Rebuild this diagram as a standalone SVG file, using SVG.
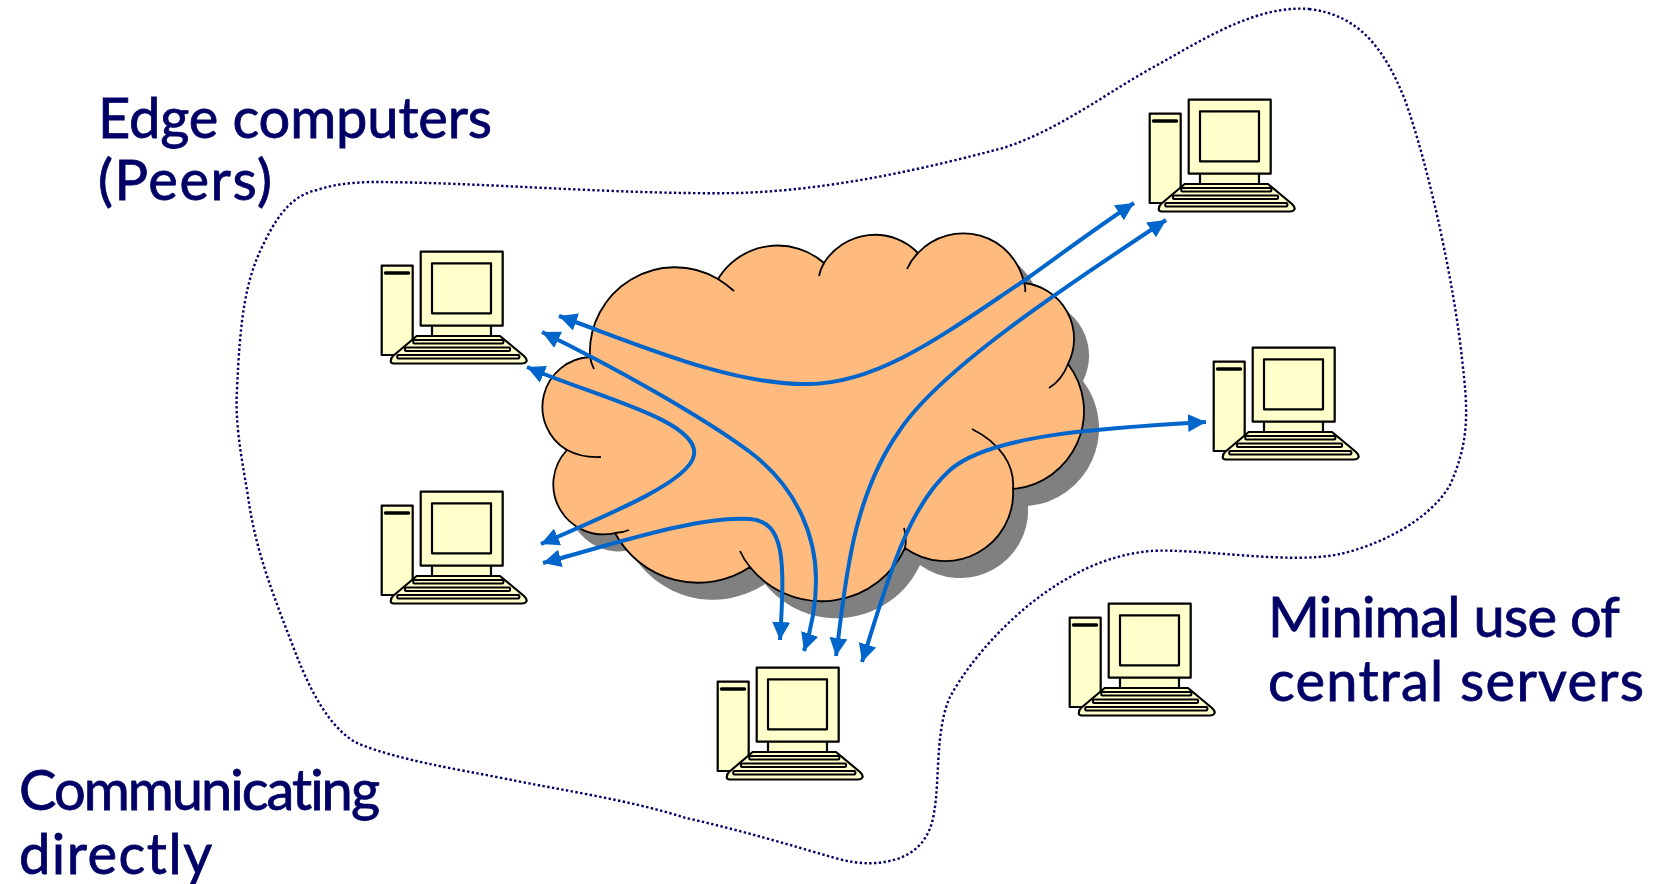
<svg xmlns="http://www.w3.org/2000/svg" width="1655" height="884" viewBox="0 0 1655 884">
<style>
.lbl{font-family:"Lato","Open Sans",sans-serif;font-size:56px;fill:#000066;stroke:#000066;stroke-width:.8;font-variant-ligatures:none}
.pc{fill:#FFFFCC;stroke:#000;stroke-width:2.2;stroke-linejoin:round}
.flow{fill:none;stroke:#0066CC;stroke-width:4;marker-start:url(#ah);marker-end:url(#ah)}
.in{fill:none;stroke:#000;stroke-width:1.8}
</style>
<defs>
<marker id="ah" markerUnits="userSpaceOnUse" markerWidth="20" markerHeight="18" refX="18" refY="9" orient="auto-start-reverse"><path d="M0 0L18 9L0 18Z" fill="#0066CC"/></marker>
<path id="cl" d="M718 279A70 70 0 0 1 824 263A60 60 0 0 1 918 253A62 62 0 0 1 1024 283A56 56 0 0 1 1068 364A78 78 0 0 1 1013 489A68 68 0 0 1 905 548A92 92 0 0 1 750 567A94 94 0 0 1 615 533A50 50 0 0 1 567 450A50 50 0 0 1 590 357A85 85 0 0 1 718 279Z"/>
<g id="pc">
<rect class="pc" x="381.7" y="265.7" width="31" height="89.3"/>
<path d="M385.5 273H408.5" stroke="#000" stroke-width="3.5" fill="none" stroke-linecap="round"/>
<rect class="pc" x="432" y="325" width="59" height="12"/>
<rect class="pc" x="420.7" y="251.7" width="82" height="74"/>
<rect class="pc" x="432" y="263.3" width="59" height="50"/>
<path class="pc" d="M416.7 336H500L524 356Q528 360 526 362Q525 363.5 522 363.5H394Q390 363.5 391 360Q391 358 393 356Z"/>
<rect class="pc" x="413.3" y="340" width="90" height="3.5" rx="1"/>
<rect class="pc" x="405" y="347.5" width="105" height="3.5" rx="1"/>
<rect class="pc" x="397.3" y="355" width="122" height="3.5" rx="1"/>
</g>
</defs>
<g id="boundary"><path d="M1309 9C1360 15 1385 50 1405 100C1430 170 1455 290 1462 359C1468 410 1470 440 1450 485C1430 520 1380 545 1340 554C1290 565 1200 548 1150 551C1110 555 1080 570 1055 586C1010 615 970 660 950 697C935 730 940 780 934 813C930 840 915 852 900 858C880 865 860 865 835 858C790 845 740 830 686 818C630 800 560 790 507 779C450 768 400 760 359 744C330 730 310 690 296 654C275 600 255 550 248 496C240 450 235 420 237 390C240 320 245 280 264 243C280 210 295 195 317 190C335 184 350 183 369 182C480 182 620 195 739 193C830 190 920 170 1003 148C1060 130 1110 90 1161 63C1210 35 1260 5 1309 9Z" fill="none" stroke="#000066" stroke-width="2.4" stroke-dasharray="2.4 2.4"/></g>
<g id="cloud">
<use href="#cl" x="15" y="17" fill="#808080"/>
<use href="#cl" fill="#FFBB7D" stroke="#000" stroke-width="1.8"/>
<path class="in" d="M718 279Q726 284 734 291M824 263Q820 270 819 276M918 253Q911 260 907 269M1024 283Q1026 288 1025 292M1068 364Q1062 380 1049 388M1013 489C1015 465 1000 443 972 429M905 548Q907 538 904 528M750 567Q744 560 740 551M615 533Q622 533 629 530M567 450Q582 458 601 457M590 357Q591 363 594 369"/>
</g>
<g id="computer-1"><use href="#pc"/></g>
<g id="computer-2"><use href="#pc" y="240"/></g>
<g id="computer-3"><use href="#pc" x="768" y="-152"/></g>
<g id="computer-4"><use href="#pc" x="832" y="96"/></g>
<g id="computer-5"><use href="#pc" x="688" y="352"/></g>
<g id="computer-6"><use href="#pc" x="336" y="416"/></g>
<g id="connectors">
<path class="flow" d="M559 316C640 345 730 385 808 384C880 384 950 330 1025 280C1060 255 1100 225 1134 203"/>
<path class="flow" d="M542 332C610 365 700 415 750 452C800 490 816 540 816 580C816 605 811 630 804 651"/>
<path class="flow" d="M527 367C590 395 700 420 694 455C690 480 620 510 541 544"/>
<path class="flow" d="M543 563C610 545 700 515 750 519C785 522 785 560 780 640"/>
<path class="flow" d="M836 656C845 590 850 500 900 430C940 370 1060 290 1166 220"/>
<path class="flow" d="M862 662C885 590 905 510 950 470C990 435 1100 428 1206 422"/>
</g>
<g id="labels">
<text class="lbl" x="98" y="138" textLength="394">Edge computers</text>
<text class="lbl" x="98" y="200" textLength="174">(Peers)</text>
<text class="lbl" x="19" y="810" textLength="361">Communicating</text>
<text class="lbl" x="19" y="874" textLength="193">directly</text>
<text class="lbl" x="1268" y="637" textLength="352">Minimal use of</text>
<text class="lbl" x="1268" y="701" textLength="376">central servers</text>
</g>
</svg>
